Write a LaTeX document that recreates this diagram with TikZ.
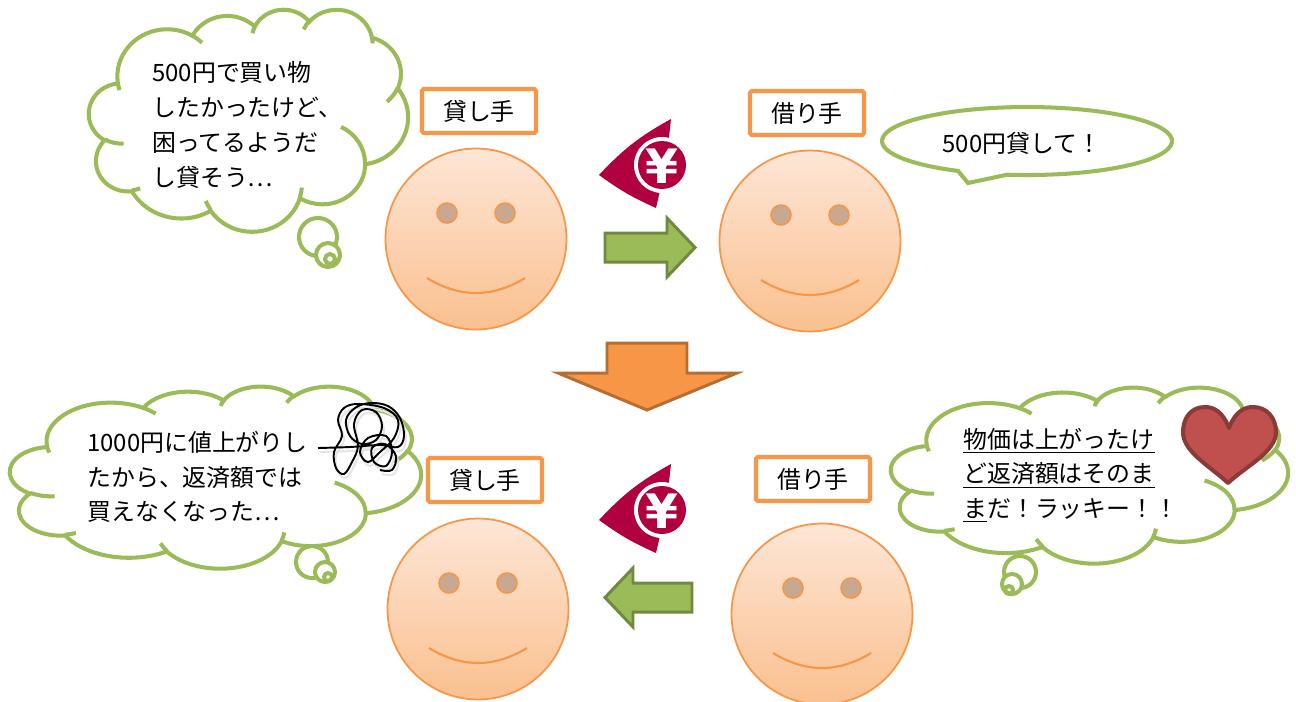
\documentclass[tikz,border=0pt]{standalone}
\usepackage{fontspec}
\setmainfont{Noto Sans CJK JP}
\newfontfamily\yenfont{DejaVu Sans Bold}

\definecolor{cloudgreen}{HTML}{9BBB59}
\definecolor{arrowgreendark}{HTML}{71893F}
\definecolor{tagorange}{HTML}{F79646}
\definecolor{arroworangedark}{HTML}{B66D31}
\definecolor{facetop}{RGB}{253,230,214}
\definecolor{facebottom}{RGB}{250,192,143}
\definecolor{eyebrown}{RGB}{201,168,146}
\definecolor{yenred}{RGB}{176,0,64}
\definecolor{heartred}{HTML}{C0504D}
\definecolor{heartdark}{HTML}{8C3A38}

\tikzset{
  declare function={pa(\ang,\rw,\rh)=atan2(\rw*sin(\ang),\rh*cos(\ang));},
  lobe/.style n args={4}{x radius=#1, y radius=#2, start angle={pa(#3,#1,#2)},
    delta angle={mod(pa(#3+#4,#1,#2)-pa(#3,#1,#2)+720,360)}},
  cloudline/.style={draw=cloudgreen, line width=2.3pt},
  talk/.style={font=\fontsize{13.6pt}{19.8pt}\selectfont, align=left, inner sep=0pt},
  tag/.style={draw=tagorange, line width=2.3pt, fill=white, rounded corners=1pt,
    minimum width=2.28cm, minimum height=0.88cm, inner sep=0pt,
    font=\fontsize{13.6pt}{16pt}\selectfont},
  face/.style={circle, draw=tagorange, line width=1pt, top color=facetop,
    bottom color=facebottom, minimum size=3.62cm, inner sep=0pt},
  eye/.style={draw=tagorange, line width=0.9pt, fill=eyebrown},
  smile/.style={draw=tagorange, line width=1.2pt},
  greenarrow/.style={fill=cloudgreen, draw=arrowgreendark, line width=1.7pt},
  downarrow/.style={fill=tagorange, draw=arroworangedark, line width=1.7pt}
}

% puffy outline in a 43.2 x 43.2 box, stretched to w x h
\newcommand\thinkcloud[4]{%
  \begin{scope}[shift={(#1,#2)}, xscale=#3/43.2, yscale=#4/43.2]
    \filldraw[cloudline, fill=white] (3.900,14.370)
      arc[lobe={6.753}{9.190}{-190.4875}{123.7805}]
      arc[lobe={5.333}{7.267}{-144.1024}{89.9452}]
      arc[lobe={4.365}{5.945}{-145.8079}{99.7230}]
      arc[lobe={4.857}{6.595}{-130.9861}{117.2417}]
      arc[lobe={5.333}{7.273}{-78.7089}{109.0269}]
      arc[lobe={6.775}{9.220}{-46.2673}{130.2690}]
      arc[lobe={5.785}{7.867}{0.6250}{114.0333}]
      arc[lobe={6.752}{9.215}{22.4516}{115.1726}]
      arc[lobe={7.720}{10.543}{66.2426}{75.7110}]
      arc[lobe={4.360}{5.918}{-274.9421}{146.7356}]
      arc[lobe={4.345}{5.945}{-246.8285}{152.5189}] -- cycle;
    \draw[cloudline] (4.693,26.177) arc[lobe={4.345}{5.945}{86.7420}{26.4295}]
      (6.928,34.899) arc[lobe={4.360}{5.918}{73.6105}{11.4475}]
      (16.478,39.090) arc[lobe={6.752}{9.215}{137.6242}{14.0811}]
      (28.827,34.751) arc[lobe={6.752}{9.215}{6.4533}{15.9984}]
      (34.129,22.954) arc[lobe={5.785}{7.867}{-70.2924}{70.9174}]
      (41.798,15.354) arc[lobe={5.333}{7.273}{30.3180}{27.7515}]
      (38.324,5.426) arc[lobe={4.857}{6.595}{-13.7443}{14.8512}]
      (29.078,3.952) arc[lobe={4.857}{6.595}{-149.1815}{18.1842}]
      (22.141,4.720) arc[lobe={4.365}{5.945}{-163.4943}{17.6908}]
      (14.000,5.192) arc[lobe={6.753}{9.190}{-66.7070}{12.3194}]
      (4.127,15.789) arc[lobe={6.753}{9.190}{157.6544}{11.8582}];
  \end{scope}}

% smiling face: name, centre
\newcommand\smiley[3]{%
  \node[face] (#1) at (#2,#3) {};
  \begin{scope}[shift={(#2,#3)}]
    \draw[eye] (-29,-26) circle[radius=10];
    \draw[eye] (29,-26) circle[radius=10];
    \draw[smile] (-49,39) .. controls (-16,59) and (16,59) .. (49,39);
  \end{scope}}

% yen coin with its paper fan
\newcommand\yenmark[3]{%
  \begin{scope}[shift={(#2,#3)}]
    \fill[yenred] (9,-46) to[bend right=9] (-63,10) to[bend right=6] (-6,43) -- (4,0) -- cycle;
    \fill[white] (0,0) circle[radius=28];
    \fill[yenred] (0,0) circle[radius=24];
    \node[text=white, font=\yenfont\fontsize{27pt}{27pt}\selectfont, inner sep=0pt] (#1) at (0,1) {¥};
  \end{scope}}

\begin{document}
\begin{tikzpicture}[x=0.02cm, y=-0.02cm]
  \useasboundingbox (0,0) rectangle (1296,701);

  % thought clouds, small puffs first
  \filldraw[cloudline, fill=white] (318,237) circle[radius=19];
  \filldraw[cloudline, fill=white] (328,255) circle[radius=12];
  \draw[cloudline] (330,259) circle[radius=5];
  \thinkcloud{89}{9}{319}{222}

  \filldraw[cloudline, fill=white] (312,562) circle[radius=16];
  \filldraw[cloudline, fill=white] (325,572) circle[radius=10];
  \draw[cloudline] (328,577) circle[radius=4];
  \thinkcloud{10}{386}{411}{182}

  \filldraw[cloudline, fill=white] (1020,572) circle[radius=16];
  \filldraw[cloudline, fill=white] (1012,584) circle[radius=10];
  \draw[cloudline] (1009,590) circle[radius=4];
  \thinkcloud{891}{387}{397}{176}

  % speech balloon
  \filldraw[cloudline, fill=white] (1007.1,174.7)
    arc[x radius=145, y radius=34, start angle=97.9, delta angle=-339.5] -- (968,183) -- cycle;

  % lender and borrower
  \node[tag] (lenderA) at (479,111) {貸し手};
  \node[tag] (borrowerA) at (807,113) {借り手};
  \node[tag] (lenderB) at (485,480) {貸し手};
  \node[tag] (borrowerB) at (813,479) {借り手};
  \smiley{lenderFaceA}{476}{239}
  \smiley{borrowerFaceA}{810}{241}
  \smiley{lenderFaceB}{478}{609}
  \smiley{borrowerFaceB}{822}{614}

  % money moves
  \yenmark{yenA}{662}{165}
  \yenmark{yenB}{662}{510}
  \filldraw[greenarrow] (605,233) -- (667,233) -- (667,218) -- (695,247.5)
    -- (667,277) -- (667,262) -- (605,262) -- cycle;
  \filldraw[greenarrow] (605,597.5) -- (633,568) -- (633,583) -- (692,583)
    -- (692,612) -- (633,612) -- (633,627) -- cycle;
  \filldraw[downarrow] (607,343) -- (687,343) -- (687,373) -- (737,373)
    -- (647,410) -- (558,373) -- (607,373) -- cycle;

  % heart
  \filldraw[fill=heartred, draw=heartdark, line width=2.3pt, line join=round] (1229,428)
    .. controls (1223,412) and (1214,407) .. (1205,407)
    .. controls (1191,407) and (1183,418) .. (1183,432)
    .. controls (1183,452) and (1210,466) .. (1228,483)
    .. controls (1246,466) and (1276,452) .. (1276,432)
    .. controls (1276,418) and (1267,407) .. (1253,407)
    .. controls (1244,407) and (1235,412) .. (1229,428) -- cycle;

  % scribble with its shadow
  \foreach \dx/\dy/\ink in {2/4/black!10, 0/0/black}
    \draw[\ink, line width=1.1pt, shift={(\dx,\dy)}] plot[smooth, tension=0.6] coordinates {
      (318,448) (350,447) (380,445) (398,447) (404,436) (400,418) (388,406)
      (370,403) (355,408) (346,420) (350,436) (362,444) (376,440) (382,426)
      (376,412) (362,410) (354,424) (358,446) (352,462) (344,474) (336,468)
      (334,452) (342,436) (338,420) (344,408) (358,404) (384,408) (398,420)
      (394,438) (380,452) (368,462) (360,452) (368,438) (386,436) (392,452)
      (386,466) (374,462) (372,448) (385,444) (396,456) (392,470) (380,470)};

  % words
  \node[talk, anchor=west] (lenderThinkA) at (152,125)
    {500円で買い物\\したかったけど、\\困ってるようだ\\し貸そう…};
  \node[talk] (borrowerAsk) at (1022,143) {500円貸して！};
  \node[talk, anchor=west] (lenderThinkB) at (87,477)
    {1000円に値上がりし\\たから、返済額では\\買えなくなった…};
  \node[talk, anchor=west] (borrowerThinkB) at (963,475)
    {\underline{物価は上がったけ}\\\underline{ど返済額はそのま}\\\underline{ま}だ！ラッキー！！};
\end{tikzpicture}
\end{document}
